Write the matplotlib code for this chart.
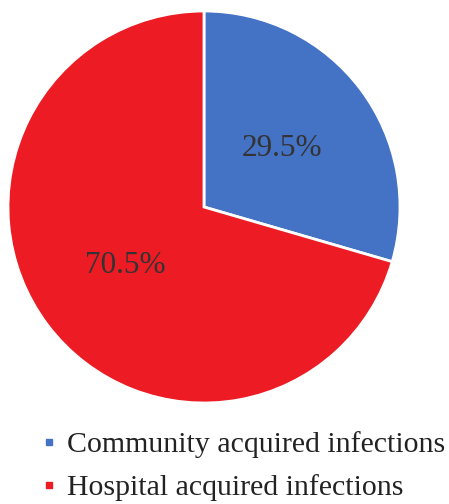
import matplotlib.pyplot as plt
from matplotlib.lines import Line2D

categories = ['Community acquired infections', 'Hospital acquired infections']
shares = [29.5, 70.5]
colors = ['#4472C4', '#ED1C24']

plt.rcParams['font.family'] = ['Liberation Serif', 'DejaVu Serif']

fig = plt.figure(figsize=(4.49, 5.04), dpi=100)
ax = fig.add_axes([8 / 449, 101 / 504, 392 / 449, 392 / 504])

wedges, texts, autotexts = ax.pie(
    shares, colors=colors, startangle=90, counterclock=False,
    autopct='%.1f%%', pctdistance=0.5, radius=1,
    wedgeprops=dict(edgecolor='white', linewidth=2),
    textprops=dict(fontsize=22.5, color='#333333'))
ax.set_xlim(-1, 1)
ax.set_ylim(-1, 1)
ax.set_aspect('equal')

handles = [Line2D([], [], marker='s', linestyle='none', markersize=5,
                  markerfacecolor=c, markeredgecolor=c) for c in colors]
fig.legend(handles, categories, loc='upper left', bbox_to_anchor=(40 / 449, 1 - 431 / 504),
           frameon=False, fontsize=21.5, handlelength=0.6, handletextpad=0.3,
           labelspacing=0.55, labelcolor='#222222', borderpad=0, borderaxespad=0)

fig.savefig('out.png', dpi=100)
